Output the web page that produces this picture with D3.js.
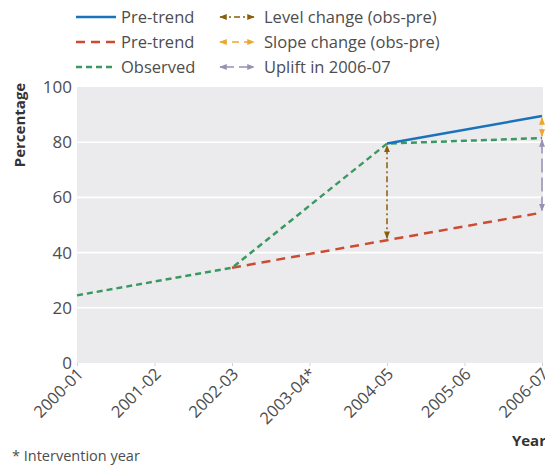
<!DOCTYPE html>
<html>
<head>
<meta charset="utf-8">
<script src="https://cdn.jsdelivr.net/npm/d3@7"></script>
<style>
  body { margin: 0; background: #fff; }
  text { font-family: "Open Sans", sans-serif; }
</style>
</head>
<body>
<svg id="chart" width="545" height="466"></svg>
<script>
// data
const years = ["2000-01", "2001-02", "2002-03", "2003-04*", "2004-05", "2005-06", "2006-07"];
const observed = [24.5, 29.5, 34.5, 57, 79.5, 80.5, 81.5];
const preTrendRed = [[2, 34.5], [6, 54.5]];      // counterfactual from 2002-03
const preTrendBlue = [[4, 79.5], [6, 89.5]];     // pre-trend slope from 2004-05
const levelChange = [4, 44.5, 79.5];
const slopeChange = [6, 81.5, 89.5];
const uplift = [6, 54.5, 81.5];
const yTicks = [0, 20, 40, 60, 80, 100];

const svg = d3.select("#chart");
const pLeft = 77, pRight = 543, pTop = 87, pBottom = 363;

const x = d3.scaleLinear().domain([0, 6]).range([pLeft, 542]);
const y = d3.scaleLinear().domain([0, 100]).range([pBottom, pTop]);

svg.append("rect")
  .attr("x", pLeft).attr("y", pTop)
  .attr("width", pRight - pLeft).attr("height", pBottom - pTop)
  .attr("fill", "#ebebee");

// grid
svg.selectAll(".grid").data(yTicks.slice(1, 5)).enter().append("line")
  .attr("x1", pLeft).attr("x2", pRight)
  .attr("y1", d => y(d)).attr("y2", d => y(d))
  .attr("stroke", "#fff").attr("stroke-width", 1.6);

// y axis
const yAxis = svg.append("g").attr("transform", `translate(${pLeft},0)`)
  .call(d3.axisLeft(y).tickValues(yTicks).tickSize(0).tickPadding(5));
yAxis.select(".domain").remove();
yAxis.selectAll("text").attr("font-size", 17).attr("fill", "#4d4d4d");

// x axis
const xAxis = svg.append("g").attr("transform", `translate(0,${pBottom})`)
  .call(d3.axisBottom(x).tickValues(d3.range(7)).tickFormat(i => years[i]).tickSize(3));
xAxis.select(".domain").remove();
xAxis.selectAll("line").attr("stroke", "#d0d0d0");
xAxis.selectAll("text")
  .attr("font-size", 16.5).attr("fill", "#4d4d4d")
  .attr("text-anchor", "end")
  .attr("dy", null).attr("y", 0)
  .attr("transform", "translate(7,12) rotate(-45)");

const line = d3.line().x(d => x(d[0])).y(d => y(d[1]));

const defs = svg.append("defs");
function marker(id, color) {
  defs.append("marker").attr("id", id)
    .attr("viewBox", "0 0 10 10").attr("refX", 9).attr("refY", 5)
    .attr("markerWidth", 5).attr("markerHeight", 5)
    .attr("orient", "auto-start-reverse")
    .append("path").attr("d", "M0,1 L10,5 L0,9 Z").attr("fill", color);
}
const cLevel = "#8c5e0a", cSlope = "#eea62c", cUplift = "#9a8fb4";
marker("mLevel", cLevel); marker("mSlope", cSlope); marker("mUplift", cUplift);

const g = svg.append("g");
g.append("path").datum(preTrendRed).attr("d", line)
  .attr("fill", "none").attr("stroke", "#cc4b31").attr("stroke-width", 2.5)
  .attr("stroke-dasharray", "9,6");
g.append("path").datum(observed.map((v, i) => [i, v])).attr("d", line)
  .attr("fill", "none").attr("stroke", "#3a9960").attr("stroke-width", 2.5)
  .attr("stroke-dasharray", "6,4");
g.append("path").datum(preTrendBlue).attr("d", line)
  .attr("fill", "none").attr("stroke", "#1a72bb").attr("stroke-width", 2.5);

function arrow(a, color, dash, m) {
  g.append("line")
    .attr("x1", x(a[0])).attr("x2", x(a[0]))
    .attr("y1", y(a[1]) - 2).attr("y2", y(a[2]) + 2)
    .attr("stroke", color).attr("stroke-width", 1.5)
    .attr("stroke-dasharray", dash)
    .attr("marker-start", `url(#${m})`).attr("marker-end", `url(#${m})`);
}
arrow(levelChange, cLevel, "6,3,2,3", "mLevel");
arrow(slopeChange, cSlope, "7,5", "mSlope");
arrow(uplift, cUplift, "14,5", "mUplift");

// legend
const legLines = [
  { label: "Pre-trend", color: "#1a72bb", dash: null },
  { label: "Pre-trend", color: "#cc4b31", dash: "9,6" },
  { label: "Observed", color: "#3a9960", dash: "6,4" }
];
const legArrows = [
  { label: "Level change (obs-pre)", color: cLevel, dash: "6,3,2,3", m: "mLevel" },
  { label: "Slope change (obs-pre)", color: cSlope, dash: "7,5", m: "mSlope" },
  { label: "Uplift in 2006-07", color: cUplift, dash: "14,5", m: "mUplift" }
];
const rowY = [17, 42, 67];
const leg = svg.append("g");
legLines.forEach((d, i) => {
  leg.append("line").attr("x1", 76).attr("x2", 116).attr("y1", rowY[i]).attr("y2", rowY[i])
    .attr("stroke", d.color).attr("stroke-width", 2.5).attr("stroke-dasharray", d.dash);
  leg.append("text").attr("x", 121).attr("y", rowY[i] + 6)
    .attr("font-size", 16.5).attr("fill", "#4d4d4d").text(d.label);
});
legArrows.forEach((d, i) => {
  leg.append("line").attr("x1", 220).attr("x2", 254).attr("y1", rowY[i]).attr("y2", rowY[i])
    .attr("stroke", d.color).attr("stroke-width", 1.5).attr("stroke-dasharray", d.dash)
    .attr("marker-start", `url(#${d.m})`).attr("marker-end", `url(#${d.m})`);
  leg.append("text").attr("x", 264).attr("y", rowY[i] + 6)
    .attr("font-size", 16.5).attr("fill", "#4d4d4d").text(d.label);
});

// axis titles and note
svg.append("text").attr("transform", "translate(25,125) rotate(-90)")
  .attr("text-anchor", "middle").attr("font-size", 15).attr("font-weight", "bold")
  .attr("fill", "#333").text("Percentage");
svg.append("text").attr("x", 546).attr("y", 446).attr("text-anchor", "end")
  .attr("font-size", 15).attr("font-weight", "bold").attr("fill", "#333").text("Year");
svg.append("text").attr("x", 12).attr("y", 461)
  .attr("font-size", 14.5).attr("fill", "#4d4d4d").text("* Intervention year");
</script>
</body>
</html>
